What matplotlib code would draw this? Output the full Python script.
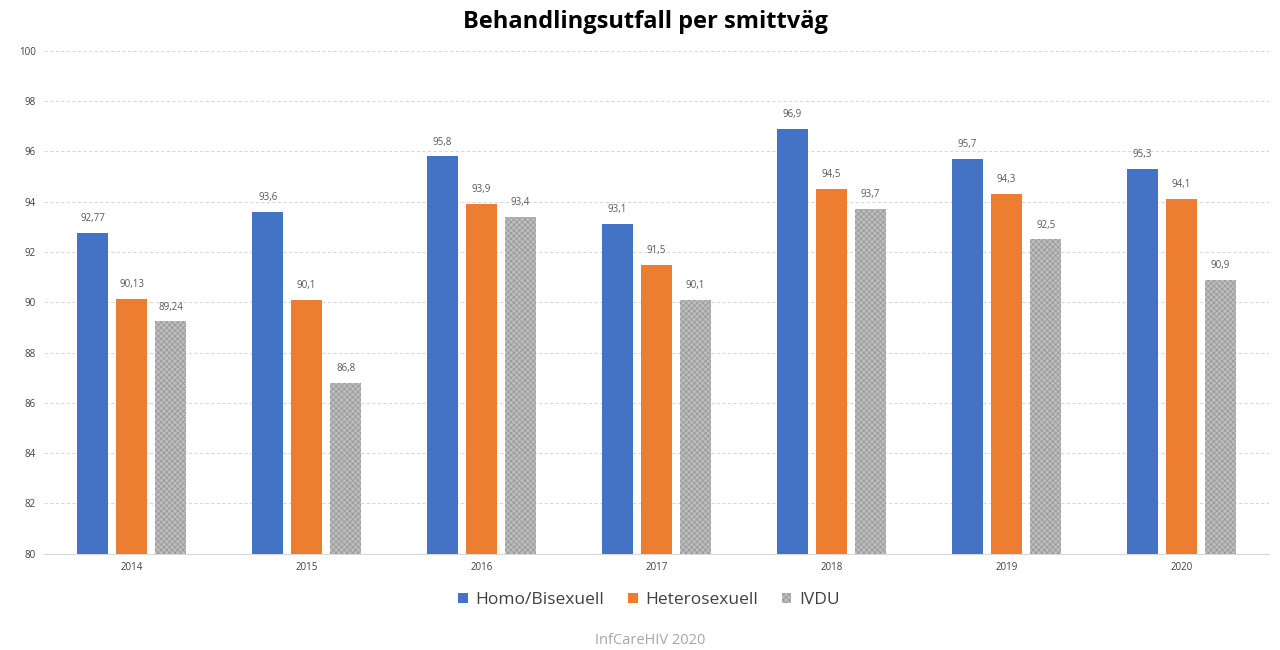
import numpy as np
import matplotlib.pyplot as plt

plt.rcParams['font.family'] = ['Open Sans', 'DejaVu Sans']
plt.rcParams['hatch.linewidth'] = 0.5

# data
years = ['2014', '2015', '2016', '2017', '2018', '2019', '2020']
homo_bi = [92.77, 93.6, 95.8, 93.1, 96.9, 95.7, 95.3]
hetero = [90.13, 90.1, 93.9, 91.5, 94.5, 94.3, 94.1]
ivdu = [89.24, 86.8, 93.4, 90.1, 93.7, 92.5, 90.9]
series_names = ['Homo/Bisexuell', 'Heterosexuell', 'IVDU']

colors = ['#4472C4', '#ED7D31', '#A5A5A5']

fig = plt.figure(figsize=(12.8, 6.5), dpi=100)
ax = fig.add_axes([0.0345, 0.148, 0.957, 0.774])

x = np.arange(len(years))
w = 0.177
step = 0.223
bars = []
for i, (vals, c) in enumerate(zip([homo_bi, hetero, ivdu], colors)):
    if i == 2:
        # gray bars have a fine dotted texture
        b = ax.bar(x + (i - 1) * step, vals, w, color='#BDBDBD',
                   edgecolor='#959595', hatch='xxxxxx', linewidth=0,
                   label=series_names[i], zorder=3)
    else:
        b = ax.bar(x + (i - 1) * step, vals, w, color=c, label=series_names[i], zorder=3)
    bars.append(b)
    for xi, v in zip(x + (i - 1) * step, vals):
        ax.text(xi, v + 0.35, f'{v:g}'.replace('.', ','), ha='center', va='bottom',
                fontsize=7, color='#595959')

ax.set_ylim(80, 100)
ax.set_xlim(-0.5, 6.5)
ax.set_yticks(range(80, 101, 2))
ax.set_xticks(x)
ax.set_xticklabels(years)
ax.tick_params(axis='both', length=0, labelsize=7, colors='#404040', pad=6)
ax.yaxis.grid(True, linestyle=(0, (3, 2)), color='#D9D9D9', linewidth=0.8, zorder=0)
for s in ['top', 'right', 'left']:
    ax.spines[s].set_visible(False)
ax.spines['bottom'].set_color('#D9D9D9')

fig.text(0.504, 0.966, 'Behandlingsutfall per smittväg', ha='center', va='center',
         fontsize=17, fontweight='bold', color='#000000')

leg = fig.legend(handles=bars, labels=series_names, loc='center', bbox_to_anchor=(0.507, 0.077),
                 ncol=3, frameon=False, fontsize=12.5, handlelength=0.55, handleheight=0.55,
                 columnspacing=1.35, handletextpad=0.45, labelcolor='#404040')

fig.text(0.508, 0.015, 'InfCareHIV 2020', ha='center', va='center', fontsize=10.5, color='#A6A6A6')

fig.savefig('out.png', dpi=100)
